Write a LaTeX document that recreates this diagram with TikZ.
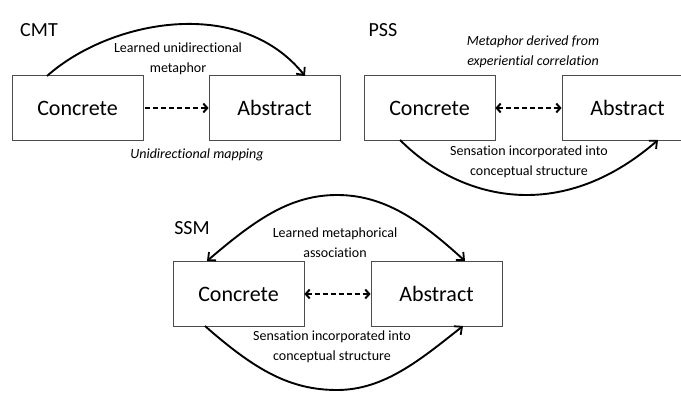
\documentclass[tikz,border=0pt]{standalone}
\usepackage{fontspec}
\setmainfont{Carlito}[Ligatures={NoCommon}]
\usetikzlibrary{arrows.meta}
\begin{document}
\begin{tikzpicture}[x=1pt,y=-1pt,
  concept/.style={draw=black!70,line width=0.8pt,minimum width=131pt,minimum height=65pt,inner sep=0pt,font=\fontsize{22}{24}\selectfont},
  title/.style={font=\fontsize{20}{24}\selectfont,inner sep=0pt},
  lbl/.style={font=\fontsize{14}{20}\selectfont,align=center,inner sep=0pt},
  ilbl/.style={lbl,font=\fontsize{14}{20}\selectfont\itshape},
  tip/.style={-{Straight Barb[length=6pt,width=11pt,line width=1.8pt]}},
  curv/.style={line width=1.9pt,tip},
  dtip/.tip={Straight Barb[length=4pt,width=9pt,line width=2pt]},
  dsh/.style={line width=2pt,dash pattern=on 5pt off 3pt,-dtip},
  ddsh/.style={line width=2pt,dash pattern=on 5pt off 3pt,dtip-dtip}
]
\useasboundingbox (0,0) rectangle (681,393);
% CMT
\node[title] (cmt) at (39,30) {CMT};
\node[concept] (c1) at (77.5,108) {Concrete};
\node[concept] (a1) at (274.5,108) {Abstract};
\coordinate (c1t) at (47,76);
\coordinate (a1t) at (305,76);
\draw[curv] (c1t) .. controls (110,20) and (240,-5) .. (a1t);
\node[lbl] (l1) at (178,59) {Learned unidirectional\\metaphor};
\coordinate (d1s) at ([xshift=2pt]c1.east);
\draw[dsh] (d1s) -- (a1.west);
\node[ilbl] (m1) at (197,155) {Unidirectional mapping};
% PSS
\node[title] (pss) at (383,30) {PSS};
\node[concept] (c2) at (429.5,108) {Concrete};
\node[concept] (a2) at (627.5,108) {Abstract};
\node[ilbl] (l2) at (533,52) {Metaphor derived from\\experiential correlation};
\draw[ddsh] (c2.east) -- (a2.west);
\coordinate (c2b) at (400,140);
\coordinate (a2b) at (658,140);
\draw[curv] (c2b) .. controls (460,200) and (560,225) .. (a2b);
\node[lbl] (s2) at (529,162) {Sensation incorporated into\\conceptual structure};
% SSM
\node[title] (ssm) at (192,228) {SSM};
\node[concept] (c3) at (238.5,294) {Concrete};
\node[concept] (a3) at (436.5,294) {Abstract};
\node[lbl] (l3) at (335,243) {Learned metaphorical\\association};
\draw[ddsh] (c3.east) -- (a3.west);
\coordinate (c3t) at (207,261);
\coordinate (a3t) at (465,261);
\coordinate (top3) at (337,195);
\draw[curv,{Straight Barb[length=6pt,width=11pt,line width=1.8pt]}-{Straight Barb[length=6pt,width=11pt,line width=1.8pt]}] (c3t) .. controls (255,220) and (290,195) .. (top3) .. controls (384,195) and (420,220) .. (a3t);
\coordinate (c3b) at (205,326);
\coordinate (a3b) at (463,326);
\coordinate (bot3) at (337,390);
\draw[curv] (c3b) .. controls (255,370) and (290,390) .. (bot3) .. controls (384,390) and (420,360) .. (a3b);
\node[lbl] (s3) at (332,347) {Sensation incorporated into\\conceptual structure};
\end{tikzpicture}
\end{document}
